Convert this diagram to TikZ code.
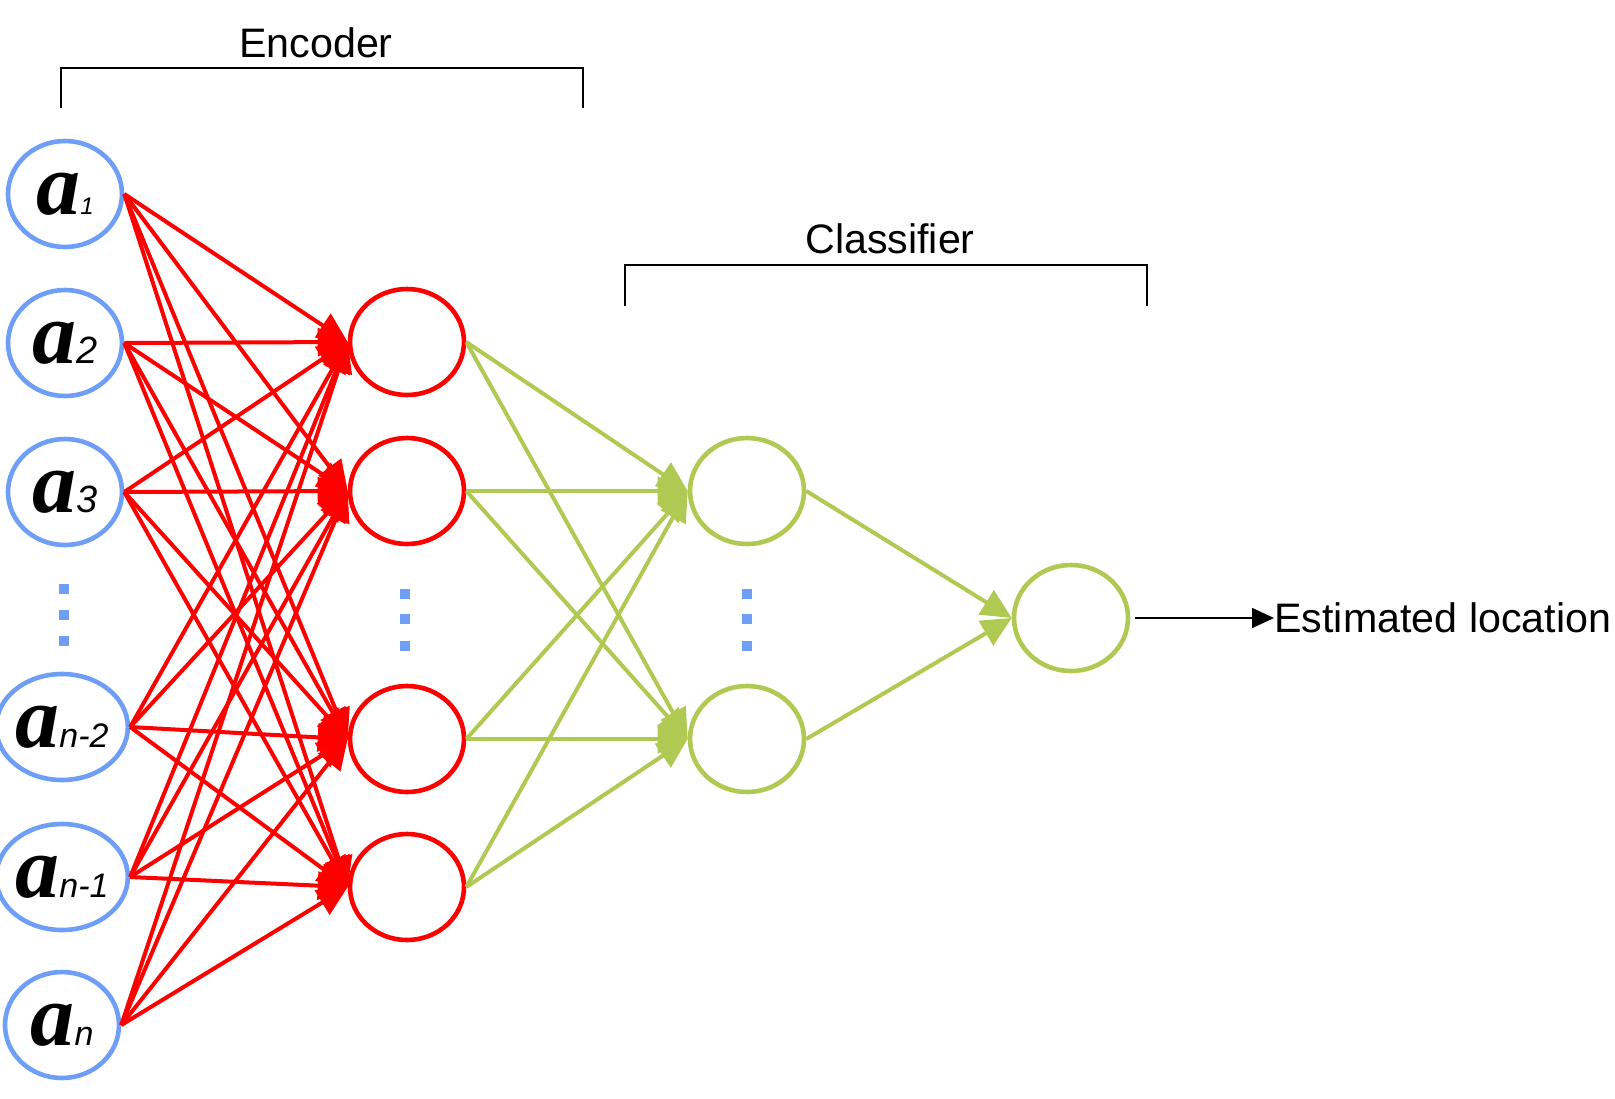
\documentclass[tikz,border=0pt]{standalone}
\usepackage{fontspec}
\setmainfont{Liberation Sans}
\newfontfamily\afont{Liberation Serif}
\usetikzlibrary{arrows.meta,shapes.geometric}

\definecolor{inblue}{RGB}{110,158,246}
\definecolor{hidred}{RGB}{255,0,0}
\definecolor{clsgreen}{RGB}{176,201,82}

% label of an input neuron: big a, subscript on the baseline
\newcommand{\alab}[2][17]{{\afont\bfseries\itshape\fontsize{44}{44}\selectfont a}{\fontsize{#1}{#1}\selectfont\itshape #2}}

\tikzset{
  neuron/.style={ellipse, draw, line width=2.3pt, fill=white, inner sep=0pt,
    minimum width=57pt, minimum height=53pt},
  inneuron/.style={neuron, draw=inblue},
  hidneuron/.style={neuron, draw=hidred},
  clsneuron/.style={neuron, draw=clsgreen},
  dotsq/.style={fill=inblue, inner sep=0pt, minimum size=5pt},
  redarrow/.style={hidred, line width=2pt, -{Triangle[length=15pt,width=14pt]}},
  greenarrow/.style={clsgreen, line width=2pt, -{Triangle[length=15pt,width=14pt]}},
  outarrow/.style={black, line width=0.8pt, -{Triangle[length=11pt,width=10pt]}},
  heading/.style={font=\fontsize{20.6}{25}\selectfont, inner sep=0pt}
}

\begin{document}
\begin{tikzpicture}[x=0.5pt, y=-0.5pt]
\useasboundingbox (0,0) rectangle (1615,1098);

% input layer
\node[inneuron] (a1) at (65,194) {\alab[12]{1}};
\node[inneuron] (a2) at (65,343) {\alab[19]{2}};
\node[inneuron] (a3) at (65,492) {\alab[19]{3}};
\node[inneuron] (an2) at (62,727) {\alab{n-2}};
\node[inneuron] (an1) at (62,877) {\alab{n-1}};
\node[inneuron] (an) at (62,1025) {\alab{n}};

% encoder output
\node[hidneuron] (h1) at (407,342) {};
\node[hidneuron] (h2) at (407,491) {};
\node[hidneuron] (h3) at (407,739) {};
\node[hidneuron] (h4) at (407,887) {};

% classifier
\node[clsneuron] (g1) at (747,491) {};
\node[clsneuron] (g2) at (747,739) {};
\node[clsneuron] (out) at (1071,618) {};

% dots
\foreach \y in {589,615,641} \node[dotsq] at (64,\y) {};
\foreach \y in {594,619,646} {
  \node[dotsq] at (405,\y) {};
  \node[dotsq] at (747,\y) {};
}

% connections
\foreach \i in {a1,a2,a3,an2,an1,an}
  \foreach \j in {h1,h2,h3,h4}
    \draw[redarrow] (\i.east) -- (\j.west);
\foreach \i in {h1,h2,h3,h4}
  \foreach \j in {g1,g2}
    \draw[greenarrow] (\i.east) -- (\j.west);
\draw[greenarrow] (g1.east) -- (out.west);
\draw[greenarrow] (g2.east) -- (out.west);

\node[heading, anchor=west] (est) at (1274,618) {Estimated location};
\draw[outarrow] ([xshift=2.5pt]out.east) -- (est.west);

% brackets
\draw[line width=1pt] (61,108) |- (583,68) -- (583,108);
\node[heading] (enc) at (316,43) {Encoder};
\draw[line width=1pt] (625,306) |- (1147,265) -- (1147,306);
\node[heading] (cls) at (890,239) {Classifier};
\end{tikzpicture}
\end{document}
